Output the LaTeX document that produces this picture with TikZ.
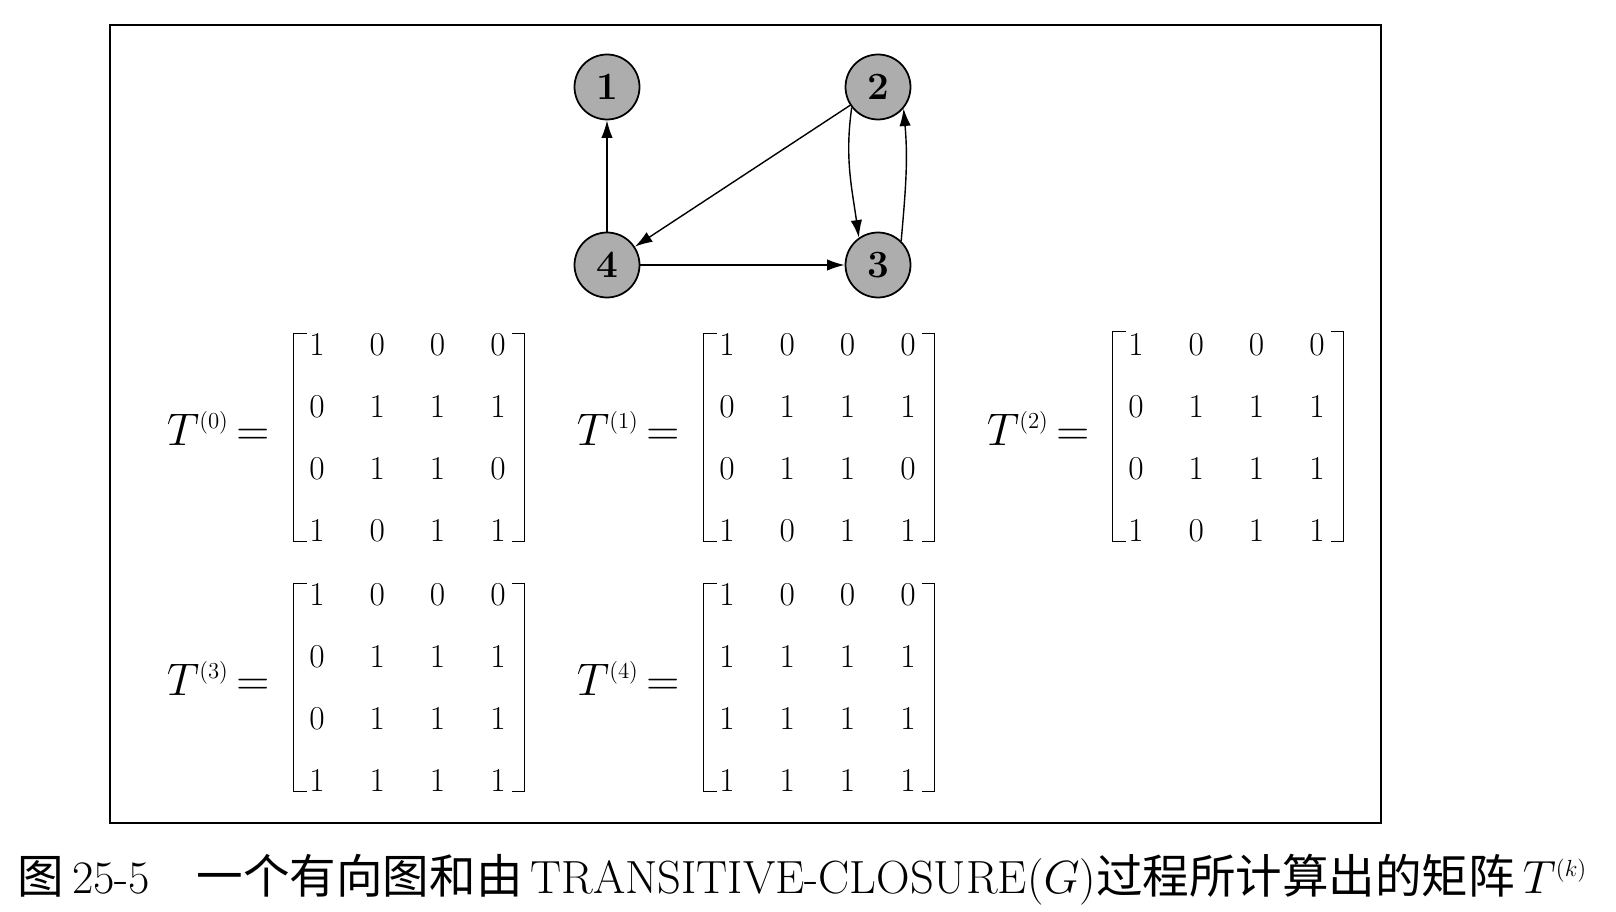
\RequirePackage{fix-cm}
\documentclass[tikz,border=0pt]{standalone}
\usepackage{fontspec}
\newfontfamily\cjk{Noto Sans CJK SC}
\usepackage{tikz}
\usetikzlibrary{calc}
\usetikzlibrary{arrows.meta}
\usetikzlibrary{matrix}
\tikzset{
	every path/.style={thick},
	vertex/.style={
		draw,
		circle,
		fill=black!32,
		line width=1pt,
		minimum size=1.3cm,
		inner sep=0pt,
		font=\fontsize{22}{22}\selectfont\bfseries
	},
	link/.style={
		line width=0.8pt,
		-{Latex[length=10pt,width=6.5pt]}
	},
	mat/.style={
		matrix of nodes,
		inner sep=0pt,
		column sep=0pt,
		row sep=0pt,
		nodes={minimum width=1.206cm, minimum height=1.234cm, inner sep=0pt,
			font=\fontsize{19}{19}\selectfont},
	},
	bracket/.style={line width=1.1pt},
	lhs/.style={
		inner sep=0pt,
		anchor=base east,
		font=\fontsize{26}{26}\selectfont
	},
	figframe/.style={draw, line width=1.4pt},
	caption/.style={
		inner sep=0pt,
		anchor=base west,
		font=\fontsize{26.5}{26.5}\selectfont
	},
}

\begin{document}
\begin{tikzpicture}[x=0.02cm, y=0.02cm]

		\useasboundingbox (0,0) rectangle (1616,-912);
		\draw[figframe] 		(110,-25) rectangle (1381,-823);

		\node[vertex] (n1) at (607,-87) {1};
		\node[vertex] (n2) at (878,-87) {2};
		\node[vertex] (n3) at (878,-265) {3};
		\node[vertex] (n4) at (607,-265) {4};

		\draw[link] 			(n4) -- (n1);
		\draw[link] 			(n2) -- (n4);
		\draw[link] 			(n4) -- (n3);
		\draw[link] 			(n2.218) to[out=262,in=98] (n3.125);
		\draw[link] 			(n3.46) to[out=85,in=-85] (n2.-40);

%*********

		\matrix[mat] (m0) at (407.5,-437.5) {
			1 & 0 & 0 & 0 \\
			0 & 1 & 1 & 1 \\
			0 & 1 & 1 & 0 \\
			1 & 0 & 1 & 1 \\
		};
		\node[lhs] (t0) at (270,-445) {$T^{\scriptscriptstyle(0)}\mkern-2mu=$};

		\matrix[mat] (m1) at (817.5,-437.5) {
			1 & 0 & 0 & 0 \\
			0 & 1 & 1 & 1 \\
			0 & 1 & 1 & 0 \\
			1 & 0 & 1 & 1 \\
		};
		\node[lhs] (t1) at (680,-445) {$T^{\scriptscriptstyle(1)}\mkern-2mu=$};

		\matrix[mat] (m2) at (1226.5,-437.5) {
			1 & 0 & 0 & 0 \\
			0 & 1 & 1 & 1 \\
			0 & 1 & 1 & 1 \\
			1 & 0 & 1 & 1 \\
		};
		\node[lhs] (t2) at (1090,-445) {$T^{\scriptscriptstyle(2)}\mkern-2mu=$};

		\matrix[mat] (m3) at (407.5,-687.5) {
			1 & 0 & 0 & 0 \\
			0 & 1 & 1 & 1 \\
			0 & 1 & 1 & 1 \\
			1 & 1 & 1 & 1 \\
		};
		\node[lhs] (t3) at (270,-695) {$T^{\scriptscriptstyle(3)}\mkern-2mu=$};

		\matrix[mat] (m4) at (817.5,-687.5) {
			1 & 0 & 0 & 0 \\
			1 & 1 & 1 & 1 \\
			1 & 1 & 1 & 1 \\
			1 & 1 & 1 & 1 \\
		};
		\node[lhs] (t4) at (680,-695) {$T^{\scriptscriptstyle(4)}\mkern-2mu=$};

%*********

		\draw[bracket] 		($(m0.center)+(-101,104)$) -- ++(-13,0) -- ++(0,-208) -- ++(13,0);
		\draw[bracket] 		($(m0.center)+(104,104)$) -- ++(13,0) -- ++(0,-208) -- ++(-13,0);
		\draw[bracket] 		($(m1.center)+(-101,104)$) -- ++(-13,0) -- ++(0,-208) -- ++(13,0);
		\draw[bracket] 		($(m1.center)+(104,104)$) -- ++(13,0) -- ++(0,-208) -- ++(-13,0);
		\draw[bracket] 		($(m2.center)+(-101,106)$) -- ++(-13,0) -- ++(0,-210) -- ++(13,0);
		\draw[bracket] 		($(m2.center)+(104,106)$) -- ++(13,0) -- ++(0,-210) -- ++(-13,0);
		\draw[bracket] 		($(m3.center)+(-101,104)$) -- ++(-13,0) -- ++(0,-208) -- ++(13,0);
		\draw[bracket] 		($(m3.center)+(104,104)$) -- ++(13,0) -- ++(0,-208) -- ++(-13,0);
		\draw[bracket] 		($(m4.center)+(-101,104)$) -- ++(-13,0) -- ++(0,-208) -- ++(13,0);
		\draw[bracket] 		($(m4.center)+(104,104)$) -- ++(13,0) -- ++(0,-208) -- ++(-13,0);

		\node[caption] (cap) at (17,-893) {{\cjk 图}\,25-5\hspace{1em}{\cjk 一个有向图和由}\,TRANSITIVE-CLOSURE($G$){\cjk 过程所计算出的矩阵}\,$T^{\scriptscriptstyle(k)}$};

	\end{tikzpicture}
\end{document}
